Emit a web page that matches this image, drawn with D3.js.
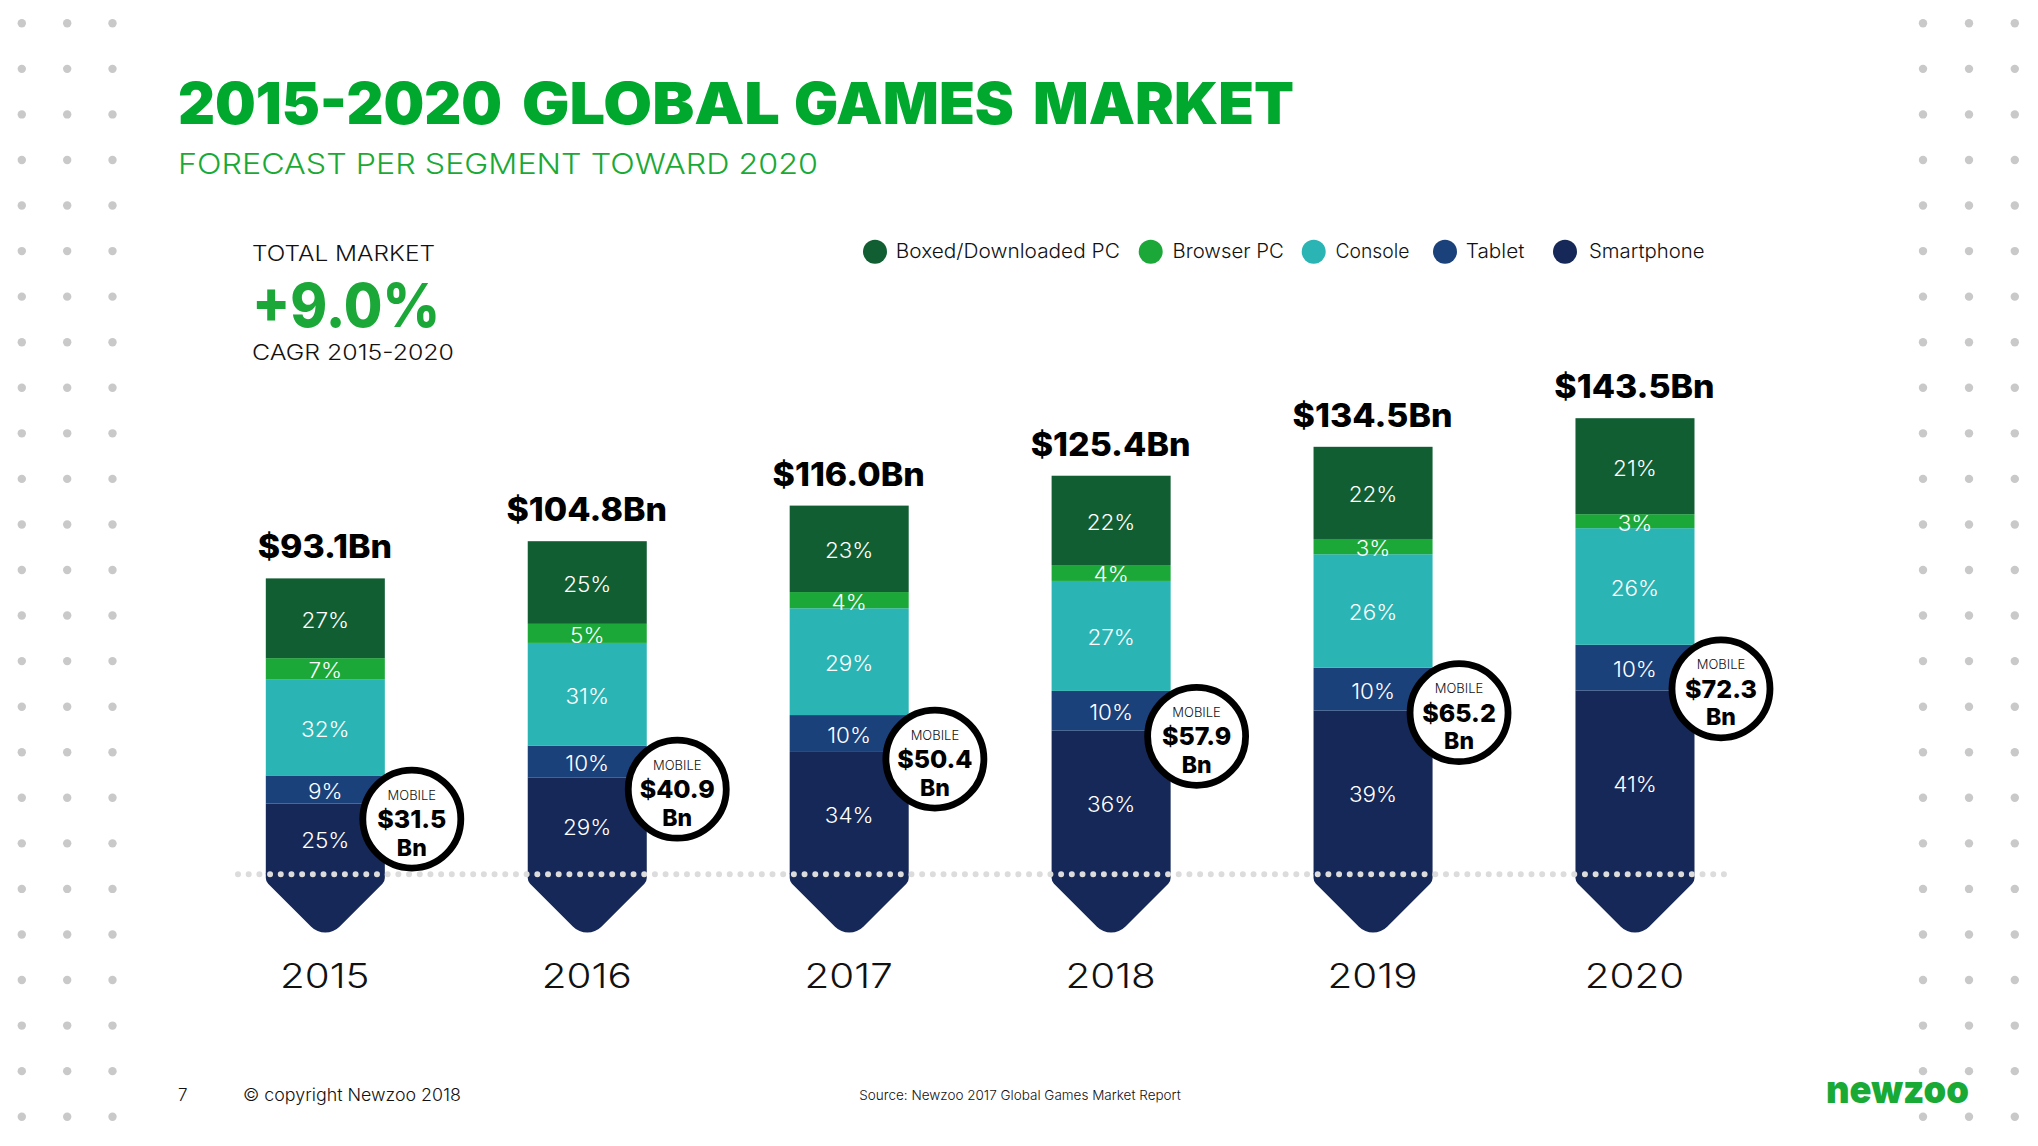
<!DOCTYPE html>
<html><head><meta charset="utf-8">
<script src="https://cdn.jsdelivr.net/npm/d3@7"></script>
<style>
html,body{margin:0;padding:0;background:#fff;overflow:hidden}
svg{display:block}
text{font-family:Inter,"Open Sans",sans-serif}
</style></head><body>
<svg id="c" width="2038" height="1146"></svg>
<script>
// --- data (US$ Bn) ---
const years=["2015","2016","2017","2018","2019","2020"];
const segments=["Boxed/Downloaded PC","Browser PC","Console","Tablet","Smartphone"];
const totals=[93.1,104.8,116.0,125.4,134.5,143.5];
const mobile=[31.5,40.9,50.4,57.9,65.2,72.3];
const boxedPC=[25.1,26.0,27.2,28.1,29.0,30.2];
const browserPC=[6.6,6.0,5.1,5.0,4.8,4.4];
const consoleV=[30.3,32.3,33.6,34.6,35.7,36.7];
const tablet=[8.8,10.0,11.6,12.5,13.5,14.4];
const smartphone=[22.3,30.5,38.5,45.2,51.5,57.8];
const boxedPct=[27,25,23,22,22,21];
const browserPct=[7,5,4,4,3,3];
const consolePct=[32,31,29,27,26,26];
const tabletPct=[9,10,10,10,10,10];
const smartPct=[25,29,34,36,39,41];

// --- styles ---
const colors=["#115e33","#1ba838","#2ab4b4","#1b417b","#162857"];
const GREEN="#00a82d",GREEN2="#19a935",INK="#111";
const series=[boxedPC,browserPC,consoleV,tablet,smartphone];
const pcts=[boxedPct,browserPct,consolePct,tabletPct,smartPct];

const svg=d3.select("#c");
// text helper: textLength (len) or a stretch factor (k) approximates the wider original typeface
function T(x,y,s,size,weight,fill,anchor,len,k){
  const t=svg.append("text").attr("x",x).attr("y",y).text(s)
    .attr("font-size",size).attr("font-weight",weight).attr("fill",fill)
    .attr("text-anchor",anchor||"start");
  const L=len||(k?t.node().getComputedTextLength()*k:0);
  if(L) t.attr("textLength",L).attr("lengthAdjust","spacingAndGlyphs");
  return t;
}

// --- background dots ---
const rows=d3.range(25),cols=[21.8,67.2,112.5,1923,1969,2014.8];
const dotY=d3.scaleLinear().domain([0,24]).range([23.3,1116.7]);
svg.append("g").selectAll("g").data(cols).join("g").each(function(cx){
  d3.select(this).selectAll("circle").data(rows).join("circle")
    .attr("cx",cx).attr("cy",d=>dotY(d)).attr("r",4.2).attr("fill","#c9c9c9");
});

// --- headings ---
const titleWords=["2015-2020","GLOBAL","GAMES","MARKET"];
const titleX=[178,522,794,1033];
const titleW=[324,258,220,261];
const title=svg.append("text").attr("y",124).attr("font-size",58).attr("font-weight",900).attr("fill",GREEN);
titleWords.forEach((w,i)=>{
  title.append("tspan").attr("x",titleX[i]).attr("textLength",titleW[i]).attr("lengthAdjust","spacingAndGlyphs").text(w);
  if(i<titleWords.length-1) title.node().appendChild(document.createTextNode(" "));
});
T(178,174,"FORECAST PER SEGMENT TOWARD 2020",29,300,GREEN2,"start",640);
T(252,260.7,"TOTAL MARKET",21.5,300,INK,"start",183);
T(252,326.5,"+9.0%",60,800,colors[1],"start",188);
T(252,360,"CAGR 2015-2020",21.5,300,INK,"start",202);

// --- legend ---
const legendX=[875,1150.7,1313.7,1445,1565];
const legendTextX=[895.8,1172.5,1335.5,1465.8,1589];
const legendW=[224,111.3,74,58.6,115.6];
segments.forEach((s,i)=>{
  svg.append("circle").attr("cx",legendX[i]).attr("cy",251.7).attr("r",12).attr("fill",colors[i]);
  T(legendTextX[i],258.3,s,19.5,300,INK,"start",legendW[i]);
});

// --- scales ---
const x=d3.scaleBand().domain(years).range([194.35,1765.95]).paddingInner(0.5456).paddingOuter(0.2728);
const y=d3.scaleLinear().domain([0,143.5]).range([874.3,418.2]);
const bw=x.bandwidth();

// --- stacks ---
const rowsData=years.map((yr,i)=>{const r={year:yr};segments.forEach((s,k)=>r[s]=series[k][i]);return r;});
const stack=d3.stack().keys(segments.slice().reverse())(rowsData);
const gBars=svg.append("g");
stack.forEach(layer=>{
  const k=segments.indexOf(layer.key);
  gBars.selectAll(null).data(layer).join("rect")
    .attr("x",d=>x(d.data.year)).attr("width",bw)
    .attr("y",d=>y(d[1])).attr("height",d=>y(d[0])-y(d[1]))
    .attr("fill",colors[k]);
});
// arrow tips under the baseline
const shoulder=7,rTip=20,rSh=8;
gBars.selectAll(null).data(years).join("path").attr("fill",colors[4]).attr("d",yr=>{
  const x0=x(yr),x1=x0+bw,c=x0+bw/2,b=y(0),tip=b+shoulder+bw/2;
  const p=d3.path();
  p.moveTo(x0,b-1);
  p.arcTo(x0,b+shoulder,c,tip,rSh);
  p.arcTo(c,tip,x1,b+shoulder,rTip);
  p.arcTo(x1,b+shoulder,x1,b-1,rSh);
  p.lineTo(x1,b-1);p.closePath();
  return p.toString();
});
// percentage labels
stack.forEach(layer=>{
  const k=segments.indexOf(layer.key);
  layer.forEach((d,i)=>{
    const t=gBars.append("text")
      .attr("x",x(d.data.year)+bw/2).attr("y",(y(d[0])+y(d[1]))/2+9.5)
      .attr("text-anchor","middle").attr("fill","#fff").attr("font-size",21).attr("font-weight",300)
      .text(pcts[k][i]+"%");
    t.attr("textLength",t.node().getComputedTextLength()*1.07).attr("lengthAdjust","spacingAndGlyphs");
  });
});

// --- dotted baseline ---
svg.append("line").attr("x1",238).attr("x2",1726).attr("y1",y(0)).attr("y2",y(0))
  .attr("stroke","#dcdcdc").attr("stroke-width",6).attr("stroke-linecap","round")
  .attr("stroke-dasharray","0 10.69");

// --- totals + years ---
years.forEach((yr,i)=>{
  const c=x(yr)+bw/2;
  T(c-0.5,y(totals[i])-20,"$"+totals[i].toFixed(1)+"Bn",32,800,"#000","middle",0,1.06);
  T(c-0.5,988.3,yr,34.5,300,INK,"middle",0,1.17);
});

// --- mobile bubbles ---
const bubbleDx=[86.5,90,85.7,85.5,86,86];
const bubbleDy=[43.6,43.6,44,45.4,45,44];
years.forEach((yr,i)=>{
  const c=x(yr)+bw/2+bubbleDx[i],cy=y(tablet[i]+smartphone[i])+bubbleDy[i];
  svg.append("circle").attr("cx",c).attr("cy",cy).attr("r",49).attr("fill","#fff").attr("stroke","#000").attr("stroke-width",6.8);
  T(c,cy-19.5,"MOBILE",13,300,INK,"middle");
  T(c,cy+9,"$"+mobile[i].toFixed(1),25,800,"#000","middle");
  T(c,cy+36.5,"Bn",23,800,"#000","middle");
});

// --- footer ---
T(178,1101.3,"7",17,300,INK);
T(243,1101.3,"© copyright Newzoo 2018",17,300,INK,"start",218);
T(859.3,1100,"Source: Newzoo 2017 Global Games Market Report",13.5,300,INK,"start",321.4);
T(1826,1103,"newzoo",39,900,GREEN2,"start",143);
</script>
</body></html>
